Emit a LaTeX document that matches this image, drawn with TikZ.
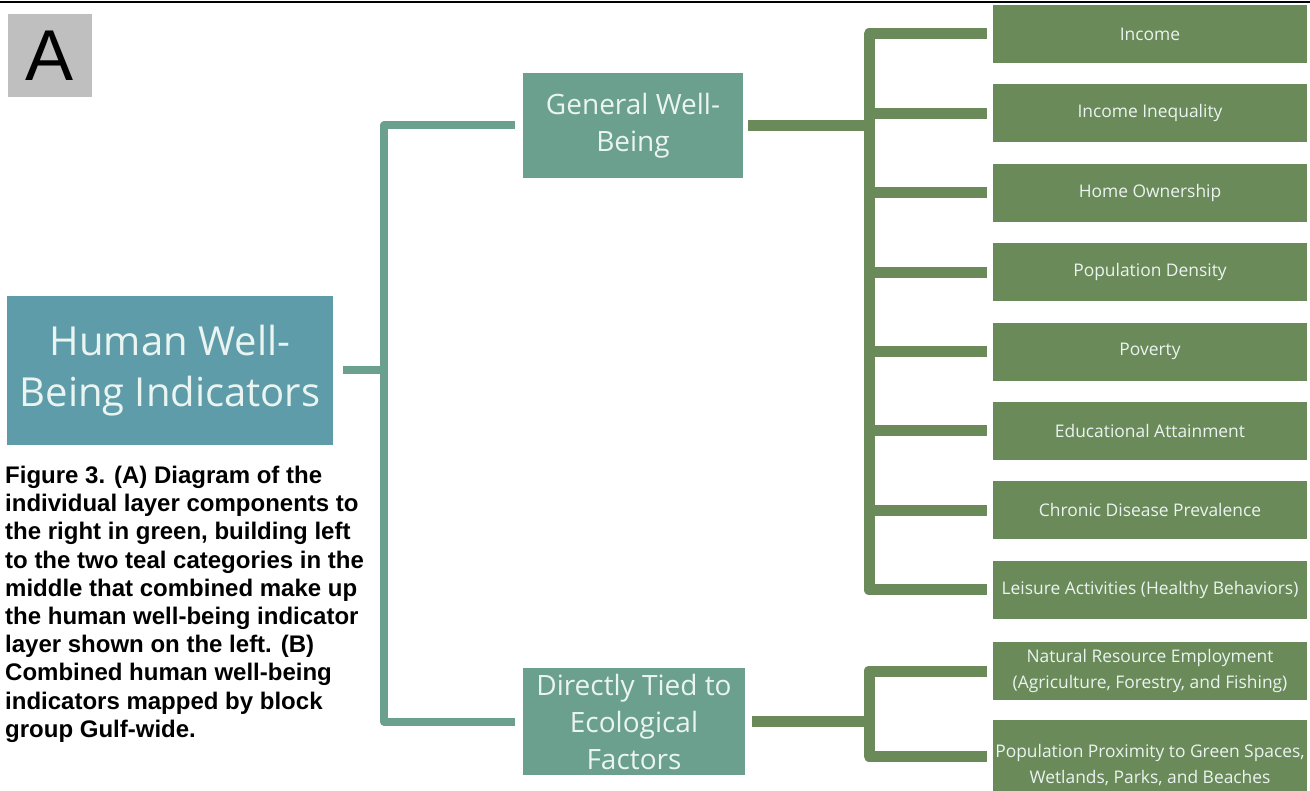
\documentclass[tikz,border=0pt]{standalone}
\usepackage{fontspec}
\setmainfont{Liberation Sans}
\newfontfamily\diagfont{Open Sans}
\definecolor{hwbcol}{HTML}{5E9CAA}
\definecolor{catcol}{HTML}{6AA08D}
\definecolor{leafcol}{HTML}{6B8A5A}
\definecolor{boxtext}{HTML}{EAF4F0}
\definecolor{agrey}{HTML}{BFBFBF}
\begin{document}
\begin{tikzpicture}[x=1pt,y=-1pt,
  catbox/.style={fill=catcol, text=boxtext, inner sep=0pt, align=center, font=\diagfont\fontsize{28}{37}\selectfont},
  leafbox/.style={fill=leafcol, text=boxtext, minimum width=314pt, minimum height=58pt, inner sep=0pt, align=center, font=\diagfont\fontsize{17.4}{25.5}\selectfont},
  tealline/.style={draw=catcol, line width=8pt, line join=round},
  greenline/.style={draw=leafcol, line width=11pt, line join=round}]
\useasboundingbox (0,0) rectangle (1310,791);

% top rule
\coordinate (rl) at (0,2.5);
\coordinate (rr) at (1310,2.5);
\draw[line width=2pt] (rl) -- (rr);

% panel label
\node[fill=agrey, minimum width=84pt, minimum height=83pt, inner sep=0pt, font=\fontsize{72}{72}\selectfont] (alabel) at (50,55.5) {A};

% root
\node[fill=hwbcol, text=boxtext, minimum width=326pt, minimum height=149pt, inner sep=0pt, align=center, font=\diagfont\fontsize{40}{51}\selectfont] (hwb) at (170,370.5) {Human Well-\\Being Indicators};

% caption
\node[anchor=north west, inner sep=0pt, align=left, font=\bfseries\fontsize{24}{28.2}\selectfont] (cap) at (5,466) {Figure 3. (A) Diagram of the\\individual layer components to\\the right in green, building left\\to the two teal categories in the\\middle that combined make up\\the human well-being indicator\\layer shown on the left. (B)\\Combined human well-being\\indicators mapped by block\\group Gulf-wide.};

% categories
\node[catbox, minimum width=220pt, minimum height=105pt] (gwb) at (633,125.5) {General Well-\\Being};
\node[catbox, minimum width=222pt, minimum height=107pt] (dte) at (634,721.5) {Directly Tied to\\Ecological\\Factors};

% leaves
\foreach \t [count=\i] in {Income, Income Inequality, Home Ownership, Population Density, Poverty, Educational Attainment, Chronic Disease Prevalence, Leisure Activities (Healthy Behaviors)}
  \node[leafbox] (g\i) at (1150,{34+79.4*(\i-1)}) {\t};
\node[leafbox] (n1) at (1150,671) {Natural Resource Employment\\(Agriculture, Forestry, and Fishing)};
\node[leafbox, minimum height=90pt] (n2) at (1150,765) {Population Proximity to Green Spaces,\\Wetlands, Parks, and Beaches};

% teal connectors
\coordinate (tv) at (384,371);
\draw[tealline] ([xshift=10pt]hwb.east) -- (hwb.east -| tv);
\draw[tealline] ([xshift=-8pt]gwb.west) -| (tv) |- ([xshift=-8pt]dte.west);

% green connectors, general well-being
\coordinate (gv) at (869,300);
\draw[greenline] ([xshift=-6pt]g1.west) -| (gv) |- ([xshift=-6pt]g8.west);
\foreach \i in {2,...,7}
  \draw[greenline] ([xshift=-6pt]g\i.west) -- (g\i.west -| gv);
\draw[greenline] ([xshift=5pt]gwb.east) -- (gwb.east -| gv);

% green connectors, ecological factors
\coordinate (dv) at (869,720);
\draw[greenline] ([xshift=-6pt]n1.west) -| (dv) |- ([yshift=9pt,xshift=-6pt]n2.west);
\draw[greenline] ([xshift=7pt]dte.east) -- (dte.east -| dv);
\end{tikzpicture}
\end{document}
